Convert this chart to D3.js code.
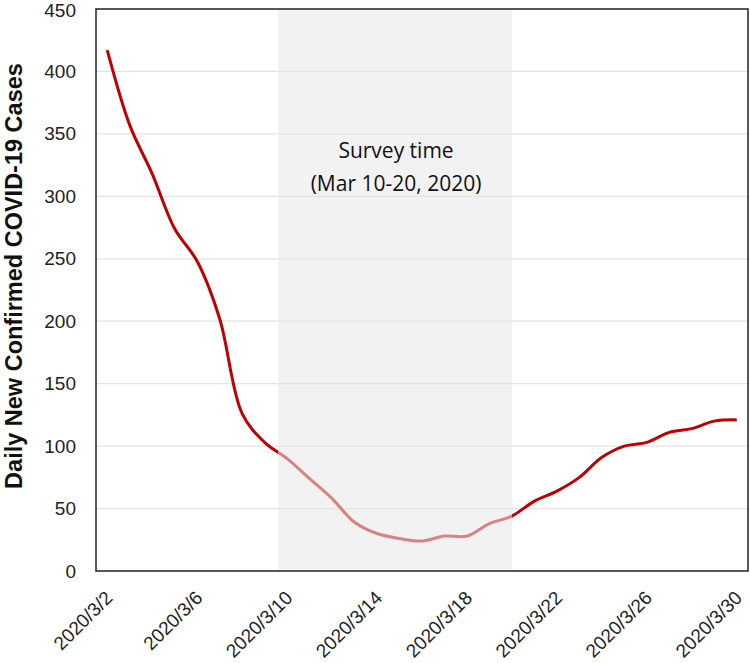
<!DOCTYPE html>
<html>
<head>
<meta charset="utf-8">
<script src="https://cdn.jsdelivr.net/npm/d3@7"></script>
<style>
  html, body { margin: 0; padding: 0; background: #fff; }
  svg { display: block; }
</style>
</head>
<body>
<svg id="chart" width="750" height="663"></svg>
<script>
// ---- data ----
const dates = ["2020/3/2","2020/3/3","2020/3/4","2020/3/5","2020/3/6","2020/3/7","2020/3/8","2020/3/9",
  "2020/3/10","2020/3/11","2020/3/12","2020/3/13","2020/3/14","2020/3/15","2020/3/16","2020/3/17",
  "2020/3/18","2020/3/19","2020/3/20","2020/3/21","2020/3/22","2020/3/23","2020/3/24","2020/3/25",
  "2020/3/26","2020/3/27","2020/3/28","2020/3/29","2020/3/30"];
const cases = [417, 357, 318, 274, 248, 202, 126, 103, 90, 74, 58, 39, 30, 26, 24, 28,
  28, 38, 44, 56, 64, 75, 91, 100, 103, 111, 114, 120, 121];
const tickDates = ["2020/3/2","2020/3/6","2020/3/10","2020/3/14","2020/3/18","2020/3/22","2020/3/26","2020/3/30"];
const yTicks = [0, 50, 100, 150, 200, 250, 300, 350, 400, 450];
const surveyStart = "2020/3/10";
const surveyEnd = "2020/3/20";
const surveyLabel = ["Survey time", "(Mar 10-20, 2020)"];
const yTitle = "Daily New Confirmed COVID-19 Cases";

// ---- layout ----
const svg = d3.select("#chart");
const m = { left: 96, right: 2, top: 9, bottom: 92 };
const W = 750, H = 663;

const x = d3.scalePoint().domain(dates).range([m.left, W - m.right]).padding(0.5);
const y = d3.scaleLinear().domain([0, 450]).range([H - m.bottom, m.top]);
const step = x.step();

const sx0 = x(surveyStart) - step * 0.4;
const sx1 = x(surveyEnd);

// shaded survey region
svg.append("rect")
  .attr("x", sx0).attr("y", m.top)
  .attr("width", sx1 - sx0).attr("height", y(0) - m.top)
  .attr("fill", "#f2f2f2");

// gridlines
svg.append("g").selectAll("line").data(yTicks.filter(d => d > 0 && d < 450)).join("line")
  .attr("x1", m.left).attr("x2", W - m.right)
  .attr("y1", d => y(d)).attr("y2", d => y(d))
  .attr("stroke", "#e4e4e4").attr("stroke-width", 1.3);

// y axis labels
const yAxis = svg.append("g").attr("transform", `translate(${m.left},0)`)
  .call(d3.axisLeft(y).tickValues(yTicks).tickSize(0).tickPadding(20));
yAxis.select(".domain").remove();
yAxis.selectAll("text").attr("font-family", "Liberation Sans, Arial, sans-serif")
  .attr("font-size", 19).attr("fill", "#222")
  .attr("dy", (d) => d === 450 ? "0.40em" : "0.32em");

// x axis labels
const xAxis = svg.append("g").attr("transform", `translate(0,${y(0)})`)
  .call(d3.axisBottom(x).tickValues(tickDates).tickSize(0));
xAxis.select(".domain").remove();
xAxis.selectAll("text")
  .attr("font-family", "Liberation Sans, Arial, sans-serif")
  .attr("font-size", 19).attr("fill", "#222")
  .attr("text-anchor", "end")
  .attr("dy", null).attr("y", 0)
  .attr("transform", "translate(6,28) rotate(-45)");

// clip paths
const defs = svg.append("defs");
defs.append("clipPath").attr("id", "inside").append("rect")
  .attr("x", sx0).attr("y", 0).attr("width", sx1 - sx0).attr("height", H);
const out = defs.append("clipPath").attr("id", "outside");
out.append("rect").attr("x", 0).attr("y", 0).attr("width", sx0).attr("height", H);
out.append("rect").attr("x", sx1).attr("y", 0).attr("width", W - sx1).attr("height", H);

const line = d3.line().x((d, i) => x(dates[i])).y(d => y(d)).curve(d3.curveCatmullRom.alpha(0.5));

svg.append("path").datum(cases).attr("d", line)
  .attr("fill", "none").attr("stroke", "#c00000").attr("stroke-width", 3)
  .attr("clip-path", "url(#outside)");
svg.append("path").datum(cases).attr("d", line)
  .attr("fill", "none").attr("stroke", "#d98282").attr("stroke-width", 3)
  .attr("clip-path", "url(#inside)");

// plot border
svg.append("rect")
  .attr("x", m.left).attr("y", m.top)
  .attr("width", W - m.right - m.left).attr("height", y(0) - m.top)
  .attr("fill", "none").attr("stroke", "#222").attr("stroke-width", 1.5);

// survey label
svg.append("text")
  .attr("x", (sx0 + sx1) / 2).attr("y", 158)
  .attr("text-anchor", "middle")
  .attr("font-family", "Open Sans, sans-serif").attr("font-size", 21).attr("fill", "#111")
  .selectAll("tspan").data(surveyLabel).join("tspan")
  .attr("x", (sx0 + sx1) / 2 + 1).attr("dy", (d, i) => i === 0 ? 0 : 33)
  .text(d => d);

// y title
svg.append("text")
  .attr("transform", `translate(22,${(m.top + y(0)) / 2 - 14}) rotate(-90)`)
  .attr("text-anchor", "middle")
  .attr("font-family", "Liberation Sans Narrow, Arial Narrow, sans-serif")
  .attr("font-weight", "bold").attr("font-size", 23.5).attr("fill", "#111")
  .text(yTitle);
</script>
</body>
</html>
